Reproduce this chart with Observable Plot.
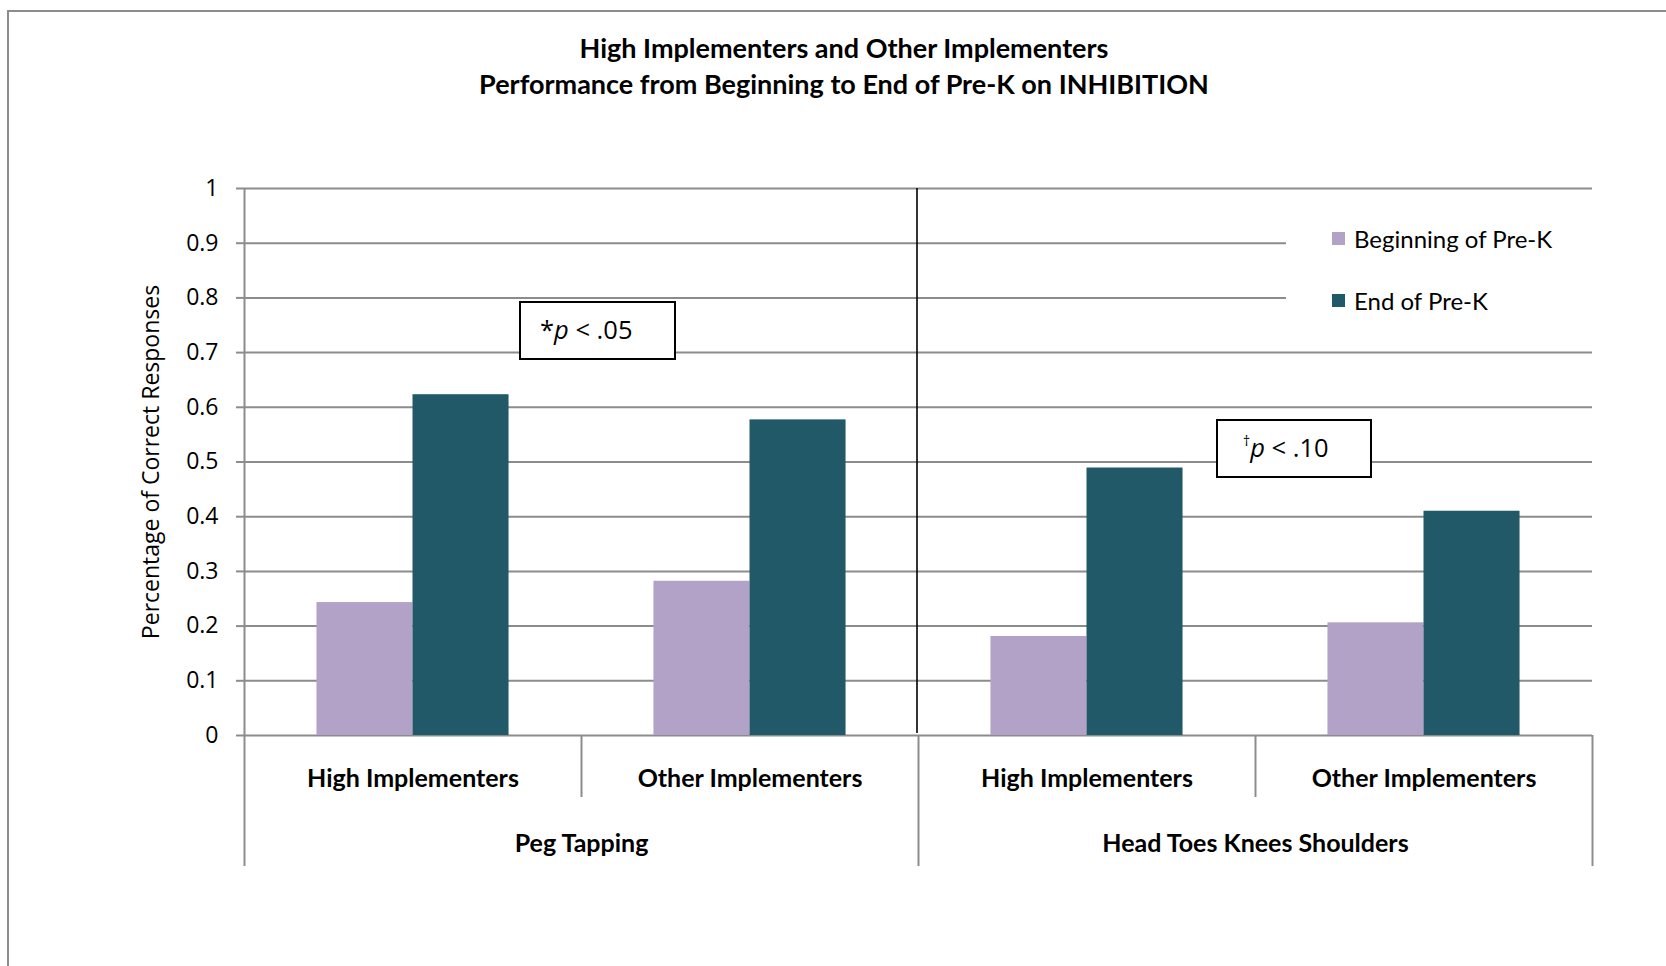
<!DOCTYPE html>
<html>
<head>
<meta charset="utf-8">
<script src="https://cdn.jsdelivr.net/npm/d3@7"></script>
<script src="https://cdn.jsdelivr.net/npm/@observablehq/plot@0.6"></script>
<style>
  body { margin: 0; background: #fff; }
  #wrap { position: relative; width: 1666px; height: 966px; overflow: hidden; background: #fff; }
  #border { position: absolute; left: 7px; top: 10px; width: 1700px; height: 1000px;
            border-left: 2px solid #8c8c8c; border-top: 2px solid #8c8c8c; }
  #chart { position: absolute; left: 0; top: 0; }
  #title { position: absolute; left: 0; width: 1688px; top: 30px; text-align: center;
           font-family: Lato, "Open Sans", sans-serif; font-weight: bold; font-size: 27px; line-height: 36px; color: #000; }
  #legend { position: absolute; left: 1286px; top: 205px; width: 306px; height: 128px; background: #fff; }
  .item { position: absolute; left: 46px; height: 26px; display: flex; align-items: center;
          font-family: Lato, "Open Sans", sans-serif; font-size: 24px; color: #000; white-space: nowrap; }
  .sw { width: 13px; height: 13px; margin-right: 9px; }
  .note { position: absolute; background: #fff; border: 2px solid #000; box-sizing: border-box;
          font-family: "Open Sans", sans-serif; font-size: 25.5px; color: #000; white-space: nowrap; }
  .note span.t { position: absolute; top: 9px; }
  sup { font-size: 14px; vertical-align: 11px; }
</style>
</head>
<body>
<div id="wrap">
  <div id="border"></div>
  <div id="chart"></div>
  <div id="title"></div>
  <div id="legend"></div>
  <div id="note1" class="note" style="left:519px;top:301px;width:157px;height:59px;"><span class="t" style="left:19px">*<i>p</i> &lt; .05</span></div>
  <div id="note2" class="note" style="left:1216px;top:419px;width:156px;height:59px;"><span class="t" style="left:25px"><sup>†</sup><i>p</i> &lt; .10</span></div>
</div>
<script>
// ---- data ----
const titleLines = ["High Implementers and Other Implementers",
                    "Performance from Beginning to End of Pre-K on INHIBITION"];
const tests = ["Peg Tapping", "Peg Tapping", "Head Toes Knees Shoulders", "Head Toes Knees Shoulders"];
const groups = ["High Implementers", "Other Implementers", "High Implementers", "Other Implementers"];
const beginning = [0.243, 0.282, 0.181, 0.206];
const endOfYear = [0.623, 0.577, 0.489, 0.410];
const seriesNames = ["Beginning of Pre-K", "End of Pre-K"];
const seriesColors = ["#b3a2c7", "#215968"];
const yTicks = [0, 0.1, 0.2, 0.3, 0.4, 0.5, 0.6, 0.7, 0.8, 0.9, 1];
const yLabel = "Percentage of Correct Responses";

// ---- build table ----
const rows = tests.map((t, i) => ({
  key: t + "|" + groups[i], test: t, group: groups[i],
  begin: beginning[i], end: endOfYear[i], first: i === 0 || tests[i - 1] !== t
}));
const keys = rows.map(d => d.key);

const W = 1666, H = 966, mL = 244, mR = 74, mT = 188, mB = 231;
const bw = (W - mL - mR) / keys.length;
const grid = "#8c8c8c";
const labelFont = "Lato, 'Open Sans', sans-serif";

document.getElementById("title").innerHTML = titleLines.join("<br>");

const chart = Plot.plot({
  width: W, height: H,
  marginLeft: mL, marginRight: mR, marginTop: mT, marginBottom: mB,
  style: { background: "transparent", overflow: "visible" },
  x: { type: "band", domain: keys, paddingInner: 0, paddingOuter: 0 },
  y: { domain: [0, 1] },
  marks: [
    Plot.gridY(yTicks, { stroke: grid, strokeOpacity: 1, strokeWidth: 2 }),
    Plot.axisY(yTicks, {
      tickSize: 8, tickPadding: 18, stroke: grid, strokeWidth: 2,
      tickFormat: d => String(d), fontSize: 23, fontFamily: "'Open Sans', sans-serif",
      fill: "#000", label: null
    }),
    Plot.text([yLabel], {
      frameAnchor: "left", textAnchor: "middle", rotate: -90, dx: -93, text: d => d,
      fontSize: 23, fontFamily: "'Open Sans', sans-serif", fill: "#000"
    }),
    // left axis line
    Plot.ruleX([keys[0]], { x: d => d, dx: -bw / 2, stroke: grid, strokeWidth: 2 }),
    // long category separators
    Plot.axisX([keys[0], keys[2]], { tickSize: 131, dx: -bw / 2, stroke: grid, strokeWidth: 2, tickFormat: () => "", label: null }),
    Plot.axisX([keys[3]], { tickSize: 131, dx: bw / 2, stroke: grid, strokeWidth: 2, tickFormat: () => "", label: null }),
    // short separators
    Plot.axisX([keys[1], keys[3]], { tickSize: 62, dx: -bw / 2, stroke: grid, strokeWidth: 2, tickFormat: () => "", label: null }),
    // bars
    Plot.barY(rows, { x: "key", y: "begin", fill: seriesColors[0], insetLeft: bw * 0.215, insetRight: bw * 0.5 }),
    Plot.barY(rows, { x: "key", y: "end", fill: seriesColors[1], insetLeft: bw * 0.5, insetRight: bw * 0.215 }),
    // divider line between tests
    Plot.ruleX([keys[2]], { x: d => d, dx: -bw / 2 - 1.5, stroke: "#000", strokeWidth: 1.6, insetBottom: 2 }),
    // category labels
    Plot.text(rows, {
      x: "key", text: "group", frameAnchor: "bottom", dy: 51,
      fontSize: 25, fontWeight: "bold", fontFamily: labelFont, fill: "#000"
    }),
    Plot.text(rows.filter(d => d.first), {
      x: "key", text: "test", frameAnchor: "bottom", dx: bw / 2, dy: 116,
      fontSize: 25, fontWeight: "bold", fontFamily: labelFont, fill: "#000"
    })
  ]
});
document.getElementById("chart").appendChild(chart);

// legend
const legend = document.getElementById("legend");
seriesNames.forEach((name, i) => {
  const item = document.createElement("div");
  item.className = "item";
  item.style.top = (20 + i * 62) + "px";
  const sw = document.createElement("span");
  sw.className = "sw";
  sw.style.background = seriesColors[i];
  item.appendChild(sw);
  item.appendChild(document.createTextNode(name));
  legend.appendChild(item);
});
</script>
</body>
</html>
